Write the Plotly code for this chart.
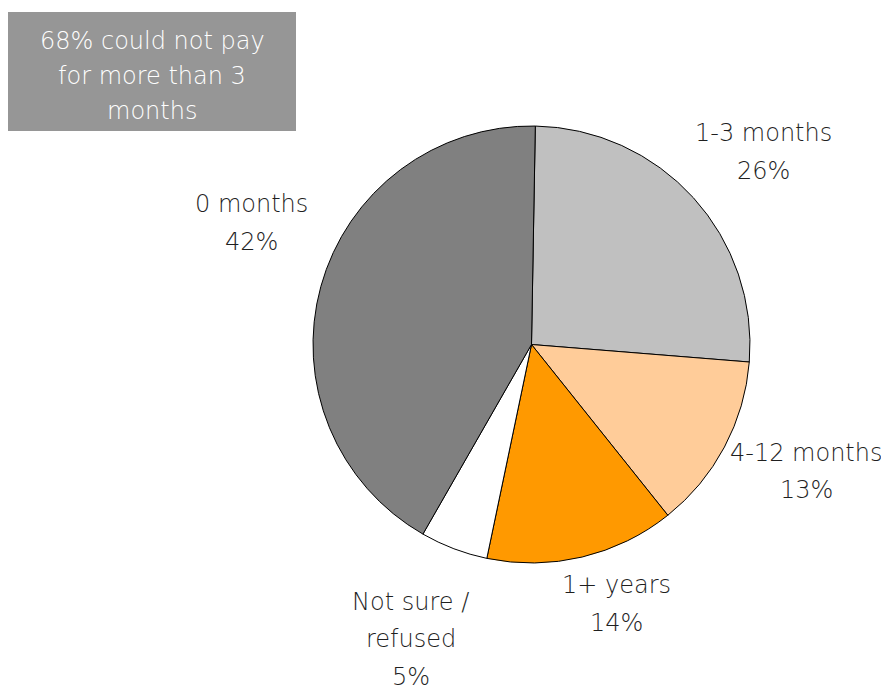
import plotly.graph_objects as go

# Months of expenses respondents could cover (share of respondents, %)
categories = ["1-3 months", "4-12 months", "1+ years", "Not sure / refused", "0 months"]
shares = [26, 13, 14, 5, 42]
slice_colors = ["#C0C0C0", "#FFCC99", "#FF9900", "#FFFFFF", "#808080"]

# Label text lines for each slice and where each label block is centred (paper coords)
label_names = [["1-3 months"], ["4-12 months"], ["1+ years"], ["Not sure /", "refused"], ["0 months"]]
label_pos = [(0.867, 0.780), (0.915, 0.317), (0.700, 0.125), (0.4665, 0.0735), (0.285, 0.677)]

callout_lines = ["68% could not pay", "for more than 3", "months"]

W, H = 881, 690
FONT = "DejaVu Sans"
TEXT_COLOR = "#1F1F1F"
LINE_STEP = 37.5 / H

fig = go.Figure(
    go.Pie(
        labels=categories,
        values=shares,
        sort=False,
        direction="clockwise",
        rotation=1,
        marker=dict(colors=slice_colors, line=dict(color="#000000", width=1)),
        textinfo="none",
        hoverinfo="label+percent",
        domain=dict(x=[313 / W, 750 / W], y=[1 - 563 / H, 1 - 126 / H]),
        showlegend=False,
    )
)

annotations = []
for name_lines, value, (cx, cy) in zip(label_names, shares, label_pos):
    lines = name_lines + [f"{value}%"]
    n = len(lines)
    for i, line in enumerate(lines):
        y = cy + ((n - 1) / 2 - i) * LINE_STEP
        annotations.append(
            dict(
                x=cx, y=y, xref="paper", yref="paper",
                text=line, showarrow=False,
                xanchor="center", yanchor="middle",
                font=dict(family=FONT, size=24, color=TEXT_COLOR, weight=200),
            )
        )

# Grey callout box in the top-left corner
box_x0, box_x1 = 8 / W, 296 / W
box_y0, box_y1 = 1 - 131 / H, 1 - 12 / H
shapes = [
    dict(
        type="rect", xref="paper", yref="paper",
        x0=box_x0, x1=box_x1, y0=box_y0, y1=box_y1,
        fillcolor="#969696", line=dict(width=0), layer="below",
    )
]
box_cx = (box_x0 + box_x1) / 2
box_cy = 1 - 76 / H
step = 34.5 / H
for i, line in enumerate(callout_lines):
    annotations.append(
        dict(
            x=box_cx, y=box_cy + (1 - i) * step, xref="paper", yref="paper",
            text=line, showarrow=False, xanchor="center", yanchor="middle",
            font=dict(family=FONT, size=24, color="#FFFFFF", weight=200),
        )
    )

fig.update_layout(
    width=W,
    height=H,
    margin=dict(l=0, r=0, t=0, b=0),
    paper_bgcolor="#FFFFFF",
    plot_bgcolor="#FFFFFF",
    annotations=annotations,
    shapes=shapes,
)

fig.write_html("out.html")
